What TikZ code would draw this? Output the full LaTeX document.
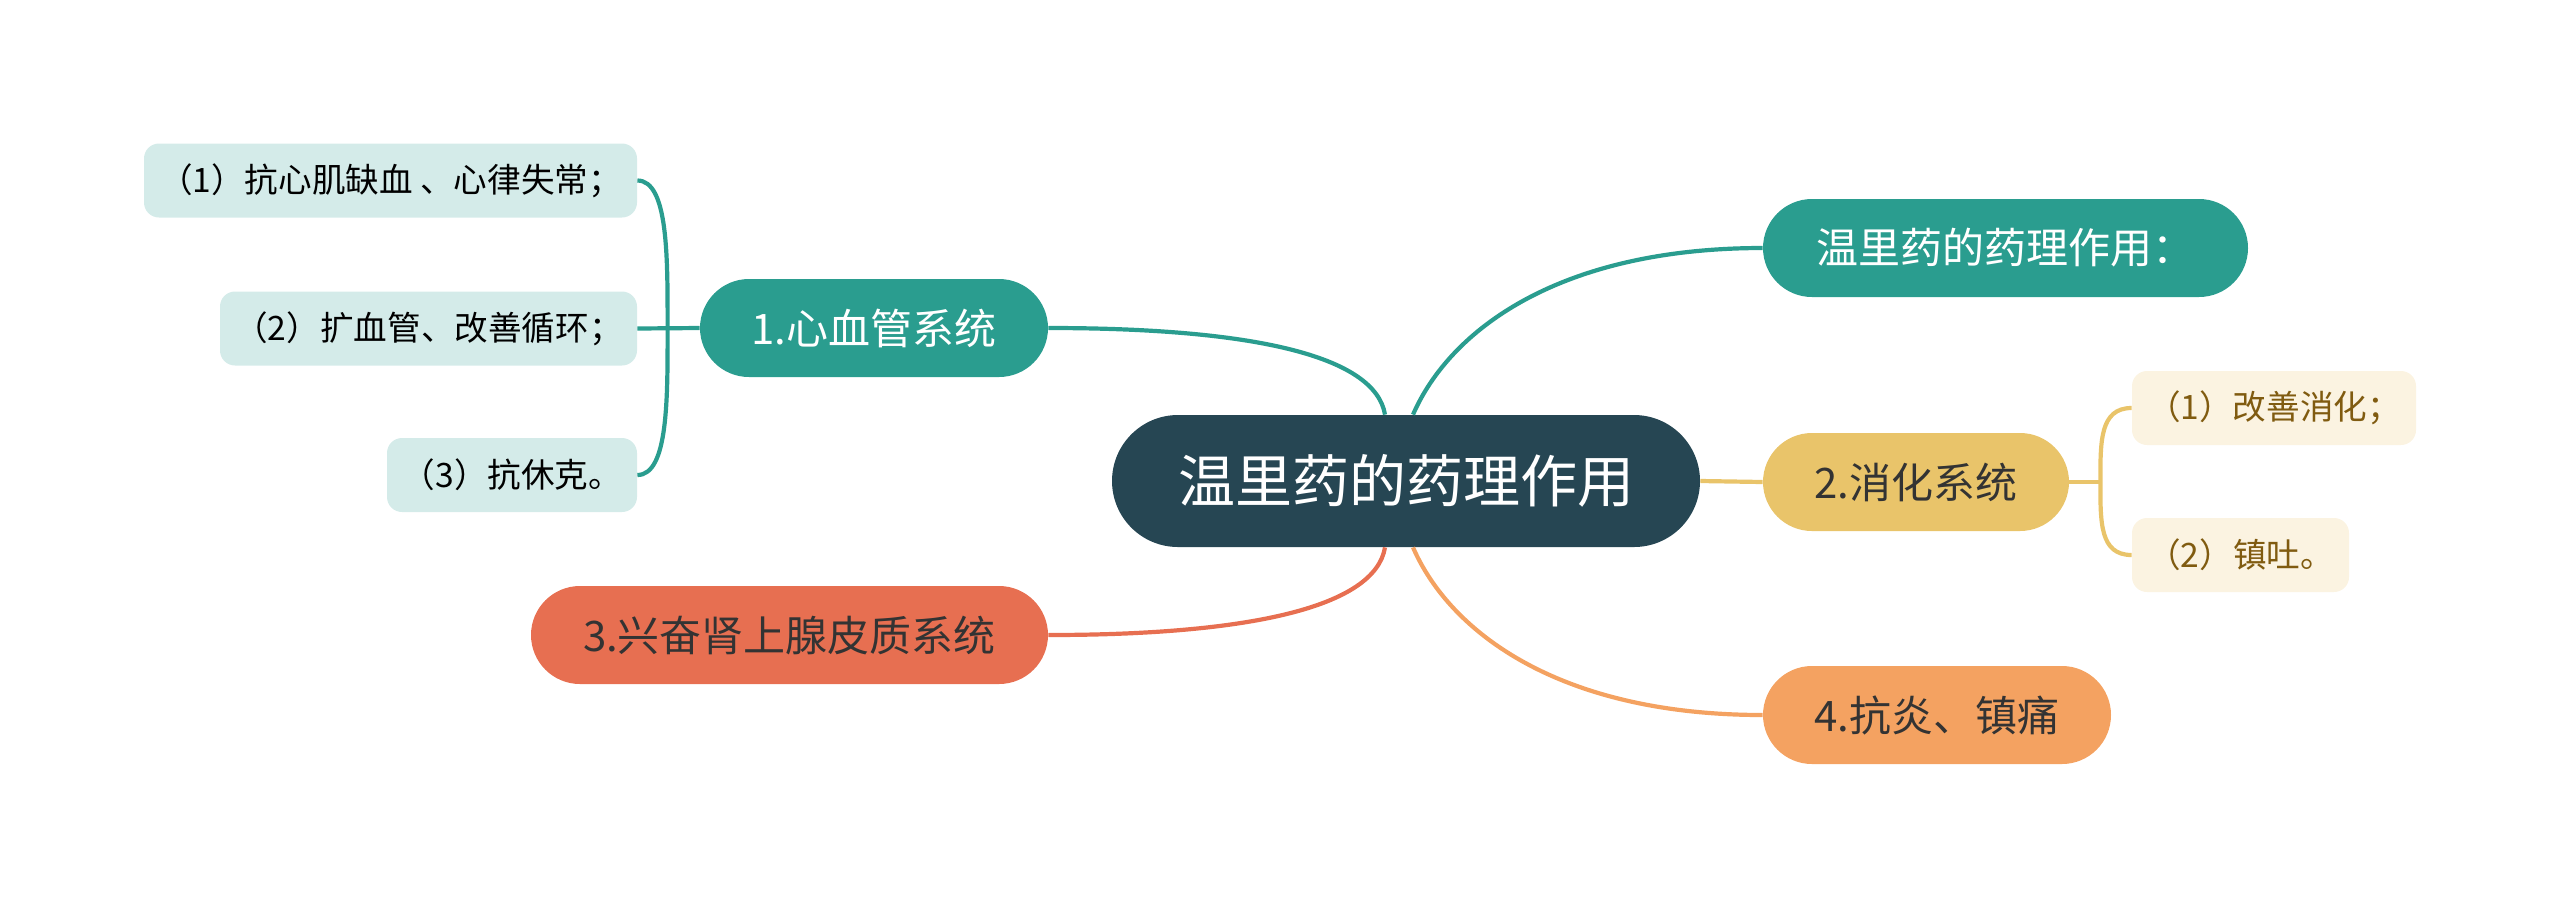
\documentclass[tikz,border=0pt]{standalone}
\usepackage{fontspec}
\newfontfamily\cjk{Noto Sans CJK SC}
\usetikzlibrary{calc,shapes.misc}

\definecolor{rootbg}{HTML}{264653}
\definecolor{teal1}{HTML}{2A9D8F}
\definecolor{gold1}{HTML}{E9C46A}
\definecolor{orange1}{HTML}{F4A261}
\definecolor{red1}{HTML}{E76F51}
\definecolor{darktxt}{HTML}{333333}
\definecolor{goldtxt}{HTML}{805B10}

\begin{document}
\begin{tikzpicture}[x=0.5pt,y=-0.5pt,
    root/.style={rounded rectangle, fill=rootbg, text=white, inner sep=0pt,
        minimum width=294pt, minimum height=66pt, font=\cjk\fontsize{28.5}{34}\selectfont},
    topic/.style={rounded rectangle, inner sep=0pt, minimum height=49pt,
        font=\cjk\fontsize{21}{25}\selectfont},
    leaf/.style={rectangle, rounded corners=7.5pt, inner sep=0pt, minimum height=37pt,
        font=\cjk\fontsize{16.8}{20}\selectfont},
    link/.style={line width=2.1pt}]
    \useasboundingbox (0,0) rectangle (2560,907);

    % Tema centrale
    \node[root] (ctr) at (1406,481) {温里药的药理作用};

    % Rami principali
    \node[topic, fill=teal1, text=white, minimum width=174pt] (cv) at (874,328) {1.心血管系统};
    \node[topic, fill=teal1, text=white, minimum width=242.5pt] (sum) at (2005.5,248) {温里药的药理作用：};
    \node[topic, fill=gold1, text=darktxt, minimum width=153pt] (dig) at (1916,482) {2.消化系统};
    \node[topic, fill=red1, text=darktxt, minimum width=258.5pt] (adr) at (789.5,635) {3.兴奋肾上腺皮质系统};
    \node[topic, fill=orange1, text=darktxt, minimum width=174pt] (inf) at (1937,715) {4.抗炎、镇痛};

    % Foglie - sistema cardiovascolare
    \node[leaf, fill=teal1!20, text=black, minimum width=246.5pt] (cv1) at (390.5,180.5) {（1）抗心肌缺血 、心律失常；};
    \node[leaf, fill=teal1!20, text=black, minimum width=208.5pt] (cv2) at (428.5,328.5) {（2）扩血管、改善循环；};
    \node[leaf, fill=teal1!20, text=black, minimum width=125pt] (cv3) at (512,475) {（3）抗休克。};

    % Foglie - sistema digerente
    \node[leaf, fill=gold1!20, text=goldtxt, minimum width=142pt] (dig1) at (2274,408) {（1）改善消化；};
    \node[leaf, fill=gold1!20, text=goldtxt, minimum width=108.5pt] (dig2) at (2240.5,555) {（2）镇吐。};

    % Collegamenti dal centro
    \draw[link, teal1] (cv.east) .. controls +(200,0) and +(-10,-60) .. ($(ctr.north)+(-21,0)$);
    \draw[link, teal1] ($(ctr.north)+(7,0)$) .. controls +(37,-85) and +(-203,0) .. (sum.west);
    \draw[link, gold1] (ctr.east) -- (dig.west);
    \draw[link, red1] (adr.east) .. controls +(200,0) and +(-10,60) .. ($(ctr.south)+(-21,0)$);
    \draw[link, orange1] ($(ctr.south)+(7,0)$) .. controls +(37,85) and +(-203,0) .. (inf.west);

    % Parentesi a sinistra
    \coordinate (cvb) at ($(cv.west)+(-32,0)$);
    \draw[link, teal1] (cv.west) -- (cv2.east);
    \draw[link, teal1] (cv1.east) .. controls +(31,0) and +(0,-70) .. (cvb)
        .. controls +(0,70) and +(31,0) .. (cv3.east);

    % Parentesi a destra
    \coordinate (dgb) at ($(dig.east)+(31,0)$);
    \draw[link, gold1] (dig.east) -- (dgb);
    \draw[link, gold1] (dig1.west) .. controls +(-32,0) and +(0,-40) .. (dgb)
        .. controls +(0,40) and +(-32,0) .. (dig2.west);

\end{tikzpicture}
\end{document}
